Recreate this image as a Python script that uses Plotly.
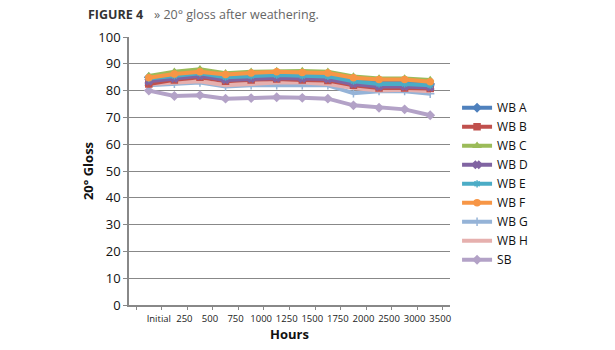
import plotly.graph_objects as go

hours = ["Initial", "250", "500", "750", "1000", "1250", "1500", "1750", "2000", "2500", "3000", "3500"]

wb_a = [85.0, 86.5, 87.0, 85.5, 86.0, 86.2, 86.0, 85.8, 84.0, 83.0, 83.0, 82.5]
wb_b = [82.5, 84.0, 85.0, 83.5, 84.0, 84.3, 84.0, 83.8, 82.0, 81.0, 81.0, 80.8]
wb_c = [85.5, 87.0, 88.0, 86.5, 87.0, 87.3, 87.3, 87.0, 85.3, 84.5, 84.5, 84.0]
wb_d = [83.5, 84.5, 85.5, 84.0, 84.5, 84.7, 84.5, 84.3, 82.5, 81.5, 81.5, 81.2]
wb_e = [84.5, 85.5, 86.5, 85.0, 85.5, 85.8, 85.5, 85.3, 83.5, 82.5, 82.5, 82.0]
wb_f = [84.8, 86.2, 87.0, 86.0, 86.6, 87.0, 86.8, 86.6, 84.8, 84.1, 84.1, 83.3]
wb_g = [82.0, 82.5, 83.0, 81.5, 82.0, 82.0, 82.0, 82.0, 79.0, 79.8, 79.8, 78.8]
wb_h = [82.5, 83.0, 83.5, 82.0, 82.5, 83.0, 83.0, 82.5, 81.0, 80.0, 80.3, 79.8]
sb = [80.0, 78.0, 78.3, 77.0, 77.2, 77.5, 77.3, 77.0, 74.5, 73.6, 73.0, 70.8]

y_ticks = list(range(0, 101, 10))

series = [
    ("WB A", wb_a, "#4F81BD", "diamond"),
    ("WB B", wb_b, "#C0504D", "square"),
    ("WB C", wb_c, "#9BBB59", "triangle-up"),
    ("WB D", wb_d, "#8064A2", "x"),
    ("WB E", wb_e, "#4BACC6", "asterisk-open"),
    ("WB F", wb_f, "#F79646", "circle"),
    ("WB G", wb_g, "#95B3D7", "cross-thin-open"),
    ("WB H", wb_h, "#E6B0AE", None),
    ("SB", sb, "#B3A2C7", "diamond"),
]

fig = go.Figure()
draw_order = [8, 6, 7, 1, 3, 0, 4, 2, 5]
for i in range(len(series)):
    name, vals, color, sym = series[i]
    mk = dict(color=color, size=6, line=dict(color=color, width=1.5))
    if sym is None:
        mode = "lines"
    else:
        mode = "lines+markers"
        mk["symbol"] = sym
    fig.add_trace(go.Scatter(
        x=hours, y=vals, name=name, mode=mode,
        line=dict(color=color, width=4),
        marker=mk,
    ))

traces = list(fig.data)
for idx in draw_order:
    traces[idx].legendrank = 1000 + idx
fig.data = [traces[i] for i in draw_order]

fig.update_layout(
    width=615, height=350,
    margin=dict(l=129, r=165, t=37, b=45, autoexpand=False),
    plot_bgcolor="white", paper_bgcolor="white",
    font=dict(family="Open Sans, DejaVu Sans, sans-serif", color="#111"),
    showlegend=True,
    legend=dict(x=1.022, y=0.79, xanchor="left", yanchor="top",
                font=dict(size=12, color="#111"), tracegroupgap=0,
                itemwidth=30, bgcolor="rgba(0,0,0,0)"),
    annotations=[
        dict(text="<b>FIGURE 4</b>", xref="paper", yref="paper",
             x=-0.135, y=1.0, xanchor="left", yanchor="bottom", yshift=12,
             showarrow=False, font=dict(size=12.5, color="#333")),
        dict(text="» 20° gloss after weathering.", xref="paper", yref="paper",
             x=0.072, y=1.0, xanchor="left", yanchor="bottom", yshift=12,
             showarrow=False, font=dict(size=12.5, color="#666")),
    ],
)

fig.update_xaxes(
    type="category", tickson="boundaries", ticks="outside", ticklen=3,
    tickcolor="#888", showline=True, linecolor="#888", linewidth=1.5,
    showgrid=False, tickangle=0, tickfont=dict(size=9.5, color="#222"),
    ticklabelstandoff=4, ticklabelshift=10,
    title=dict(text="<b>Hours</b>", font=dict(size=13, color="#111"), standoff=2),
)
fig.update_yaxes(
    range=[0, 100], tickvals=y_ticks, ticks="outside", ticklen=4,
    tickcolor="#888", showline=True, linecolor="#888", linewidth=1.5,
    showgrid=True, gridcolor="#888", gridwidth=1, zeroline=False,
    tickfont=dict(size=13, color="#111"),
    title=dict(text="<b>20° Gloss</b>", font=dict(size=13, color="#111"), standoff=2),
)

fig.write_html("out.html")
